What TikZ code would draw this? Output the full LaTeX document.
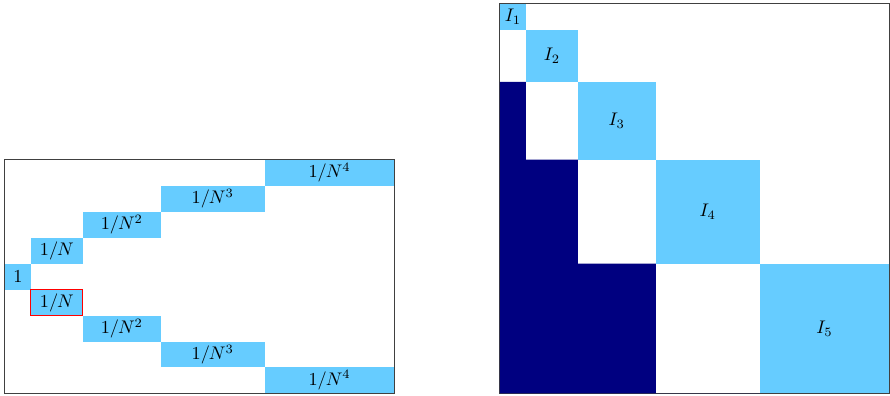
\documentclass[tikz,border=0pt]{standalone}
\usepackage{amsmath}
\usepackage{xcolor}
\usepackage{tikz}
\usetikzlibrary{positioning}
\definecolor{cellblue}{RGB}{102,204,255}
\definecolor{darknavy}{RGB}{0,0,128}
\tikzstyle{cell} = [rectangle, minimum height=0.5cm, inner sep=0pt, outer sep=0pt, text centered, fill=cellblue]
\tikzstyle{frame} = [draw=black!75, line width=0.5pt]

\begin{document}
\begin{tikzpicture}[x=0.5cm, y=0.5cm]
\useasboundingbox (-0.19,-0.08) rectangle (34.08,15.15);

\draw [frame] (0,0) rectangle (15,9);
\draw [frame] (19.06,0) rectangle (34.06,15);

\node (one) [cell, minimum width=0.5cm] at (0.5,4.5) {$1$};
\node (upA) [cell, minimum width=1cm, above right=0cm and 0cm of one] {$1/N$};
\node (upB) [cell, minimum width=1.5cm, above right=0cm and 0cm of upA] {$1/N^2$};
\node (upC) [cell, minimum width=2cm, above right=0cm and 0cm of upB] {$1/N^3$};
\node (upD) [cell, minimum width=2.5cm, above right=0cm and 0cm of upC] {$1/N^4$};
\node (lowA) [cell, minimum width=1cm, draw=red, line width=0.5pt, below right=0cm and 0cm of one] {$1/N$};
\node (lowB) [cell, minimum width=1.5cm, below right=0cm and 0cm of lowA] {$1/N^2$};
\node (lowC) [cell, minimum width=2cm, below right=0cm and 0cm of lowB] {$1/N^3$};
\node (lowD) [cell, minimum width=2.5cm, below right=0cm and 0cm of lowC] {$1/N^4$};

\node (blkA) [cell, minimum width=0.5cm] at (19.56,14.5) {$I_1$};
\node (blkB) [cell, minimum width=1cm, minimum height=1cm, below right=0cm and 0cm of blkA] {$I_2$};
\node (blkC) [cell, minimum width=1.5cm, minimum height=1.5cm, below right=0cm and 0cm of blkB] {$I_3$};
\node (blkD) [cell, minimum width=2cm, minimum height=2cm, below right=0cm and 0cm of blkC] {$I_4$};
\node (blkE) [cell, minimum width=2.5cm, minimum height=2.5cm, below right=0cm and 0cm of blkD] {$I_5$};

\fill [darknavy] (blkA.south west |- blkE.south) |- (blkB.south west) |- (blkC.south west) |- (blkD.south west) |- (blkE.south west) -- (blkD.south west |- blkE.south) -- cycle;

\end{tikzpicture}
\end{document}
